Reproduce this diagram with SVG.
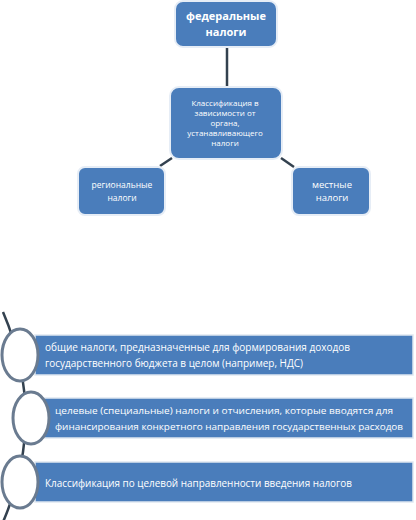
<svg xmlns="http://www.w3.org/2000/svg" width="416" height="520" viewBox="0 0 416 520">
<style>
.box{fill:#4a7dbb;stroke:#e6edf6;stroke-width:2}
.bar{fill:#4a7dbb;stroke:#dfe7f1;stroke-width:1.5}
.t{fill:#ffffff;font-family:"Open Sans","Liberation Sans",sans-serif;text-anchor:middle}
.bt{fill:#ffffff;font-family:"Open Sans","Liberation Sans",sans-serif;font-size:10.5px}
.bt2{fill:#ffffff;font-family:"Open Sans","Liberation Sans",sans-serif;font-size:9px}
.con{stroke:#33414f;stroke-width:2.5;fill:none}
.circ{fill:#ffffff;stroke:#6a7b90;stroke-width:3}
</style>
<rect width="416" height="520" fill="#ffffff"/>
<g id="connectors">
<line class="con" x1="227" y1="47" x2="227" y2="88"/>
<line class="con" x1="172" y1="158" x2="160" y2="166"/>
<line class="con" x1="281" y1="158" x2="294" y2="167"/>
<path class="con" d="M3,312 Q48,417 3,522" stroke-width="3"/>
</g>
<g id="federal">
<rect class="box" x="175" y="1" width="102" height="46" rx="8"/>
<text class="t" x="226" y="20" font-size="11" font-weight="bold">федеральные</text>
<text class="t" x="226" y="36" font-size="11" font-weight="bold">налоги</text>
</g>
<g id="center">
<rect class="box" x="170" y="87" width="112" height="72" rx="9"/>
<text class="t" x="225" y="106" font-size="8">Классификация в</text>
<text class="t" x="225" y="116" font-size="8">зависимости от</text>
<text class="t" x="225" y="126" font-size="8">органа,</text>
<text class="t" x="225" y="136" font-size="8">устанавливающего</text>
<text class="t" x="225" y="146" font-size="8">налоги</text>
</g>
<g id="regional">
<rect class="box" x="78" y="167" width="87" height="48" rx="7"/>
<text class="t" x="122" y="188" font-size="8.5">региональные</text>
<text class="t" x="122" y="201" font-size="8.5">налоги</text>
</g>
<g id="local">
<rect class="box" x="292" y="167" width="78" height="48" rx="7"/>
<text class="t" x="332" y="188" font-size="9.5">местные</text>
<text class="t" x="332" y="201" font-size="9.5">налоги</text>
</g>
<g id="bar1">
<rect class="bar" x="35" y="335" width="378" height="40"/>
<ellipse class="circ" cx="20" cy="355" rx="18" ry="26"/>
<text class="bt" x="45" y="351" textLength="305" lengthAdjust="spacingAndGlyphs">общие налоги, предназначенные для формирования доходов</text>
<text class="bt" x="45" y="367" textLength="258" lengthAdjust="spacingAndGlyphs">государственного бюджета в целом (например, НДС)</text>
</g>
<g id="bar2">
<rect class="bar" x="43" y="398" width="370" height="40"/>
<ellipse class="circ" cx="31" cy="418" rx="18" ry="26"/>
<text class="bt2" x="55" y="414" textLength="338" lengthAdjust="spacingAndGlyphs">целевые (специальные) налоги и  отчисления, которые вводятся для</text>
<text class="bt2" x="55" y="430" textLength="348" lengthAdjust="spacingAndGlyphs">финансирования конкретного направления государственных расходов</text>
</g>
<g id="bar3">
<rect class="bar" x="35" y="462" width="378" height="40"/>
<ellipse class="circ" cx="20" cy="482" rx="18" ry="26"/>
<text class="bt" x="45" y="487" textLength="307" lengthAdjust="spacingAndGlyphs">Классификация по целевой направленности введения налогов</text>
</g>
</svg>
